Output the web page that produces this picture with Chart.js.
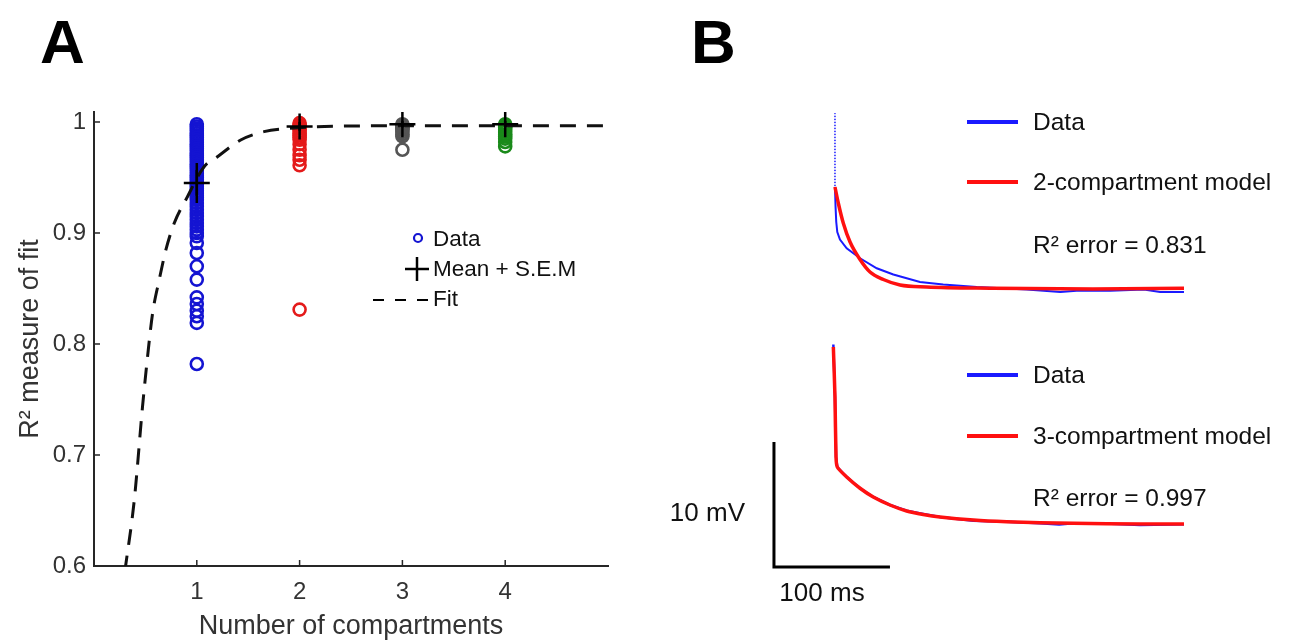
<!DOCTYPE html>
<html>
<head>
<meta charset="utf-8">
<title>Compartment model fits</title>
<script src="https://cdn.jsdelivr.net/npm/chart.js@4.4.1/dist/chart.umd.min.js"></script>
<style>
  html, body { margin: 0; padding: 0; background: #fff; }
  #wrap { position: relative; width: 1290px; height: 643px; overflow: hidden; }
  canvas { position: absolute; top: 0; }
  #fitChart { left: 0; }
  #traceChart { left: 640px; }
</style>
</head>
<body>
<div id="wrap">
  <canvas id="fitChart" width="640" height="643"></canvas>
  <canvas id="traceChart" width="650" height="643"></canvas>
</div>
<script>
"use strict";

// ---- Panel A: R² per cell, grouped by number of compartments ----
const compartments = [1, 2, 3, 4];
const r2One = [0.998, 0.996, 0.994, 0.992, 0.990, 0.988, 0.986, 0.984, 0.982, 0.980,
               0.978, 0.976, 0.974, 0.972, 0.970, 0.968, 0.966, 0.964, 0.962, 0.960,
               0.958, 0.956, 0.954, 0.952, 0.950, 0.948, 0.946, 0.944, 0.942, 0.940,
               0.938, 0.936, 0.934, 0.932, 0.930, 0.927, 0.924, 0.921, 0.918, 0.915,
               0.912, 0.909, 0.906, 0.903, 0.900, 0.897, 0.891, 0.882, 0.870, 0.858,
               0.842, 0.836, 0.830, 0.825, 0.819, 0.782];
const r2Two = [0.999, 0.997, 0.996, 0.995, 0.994, 0.992, 0.990, 0.988, 0.986, 0.984,
               0.980, 0.975, 0.970, 0.966, 0.961, 0.831];
const r2Three = [0.998, 0.997, 0.996, 0.995, 0.994, 0.993, 0.991, 0.989, 0.987, 0.975];
const r2Four = [0.998, 0.997, 0.996, 0.995, 0.993, 0.991, 0.989, 0.987, 0.985, 0.982, 0.978];
const meanR2 = [0.945, 0.996, 0.998, 0.998];
const semR2 = [0.018, 0.004, 0.003, 0.003];
const fitX = [0.30, 0.392, 0.472, 0.521, 0.570, 0.634, 0.699, 0.780, 0.909, 1.071,
              1.201, 1.427, 1.654, 1.913, 2.17, 2.6, 3.0, 4.0, 5.0];
const fitY = [0.595, 0.6595, 0.7435, 0.7886, 0.8277, 0.8577, 0.8847, 0.9087, 0.9327, 0.9597,
              0.9687, 0.9838, 0.9913, 0.9943, 0.9958, 0.9965, 0.9967, 0.9967, 0.9967];
const xTicks = [1, 2, 3, 4];
const yTicks = [0.6, 0.7, 0.8, 0.9, 1];
const groupColors = ['#1414d2', '#e41a1a', '#555555', '#1a8a1a'];

// ---- Panel B: somatic voltage traces (time in ms, voltage in mV) ----
const twoCompDataT = [1.7, 1.7, 2.2, 2.8, 3.7, 6.0, 11.8, 23.3, 37.7, 52, 75, 95, 124, 167, 196, 210, 239, 268, 282, 302.6];
const twoCompDataV = [36.3, 30.4, 28.8, 27.6, 26.8, 26.2, 25.5, 24.7, 23.9, 23.4, 22.8, 22.6, 22.4, 22.2, 22.0, 22.1, 22.1, 22.2, 22.0, 22.0];
const twoCompModelT = [1.7, 4.6, 8.9, 14.7, 23.3, 31.9, 43.4, 57.8, 80.8, 138, 224, 302.6];
const twoCompModelV = [30.4, 29.1, 27.5, 26.0, 24.6, 23.6, 23.0, 22.56, 22.4, 22.3, 22.24, 22.3];
const threeCompDataT = [0.3, 1.7, 2.6, 3.7, 11.8, 23.3, 34.7, 49.1, 63.5, 77.8, 92.2, 121, 149.7, 178.4, 195, 207.2, 240, 264.7, 302.6];
const threeCompDataV = [17.8, 13.6, 8.8, 8.0, 7.2, 6.3, 5.6, 4.96, 4.5, 4.25, 4.0, 3.7, 3.62, 3.5, 3.4, 3.5, 3.45, 3.36, 3.42];
const threeCompModelT = [0.3, 1.7, 2.6, 3.7, 11.8, 23.3, 34.7, 49.1, 63.5, 77.8, 92.2, 121, 149.7, 178.4, 207.2, 264.7, 302.6];
const threeCompModelV = [17.6, 13.6, 8.8, 8.0, 7.2, 6.3, 5.6, 4.96, 4.48, 4.2, 4.0, 3.76, 3.62, 3.54, 3.5, 3.44, 3.44];
const scaleBarT = [-50.9, -50.9, 49.1];
const scaleBarV = [10, 0, 0];
const r2Labels = ['R² error = 0.831', 'R² error = 0.997'];

const FONT = '"Liberation Sans", Arial, Helvetica, sans-serif';
const AXIS = '#262626';

const toPoints = (xs, ys) => xs.map((x, i) => ({x: x, y: ys[i]}));

function strokeLine(ctx, x1, y1, x2, y2) {
    ctx.beginPath();
    ctx.moveTo(x1, y1);
    ctx.lineTo(x2, y2);
    ctx.stroke();
}

// Inward ticks, in-axes legend and panel letter for A
const panelAExtras = {
    id: 'panelAExtras',
    afterDraw(chart) {
        const {ctx, chartArea: area, scales: {x, y}} = chart;
        ctx.save();
        ctx.strokeStyle = AXIS;
        ctx.lineWidth = 1.5;
        xTicks.forEach(function (v) {
            const px = x.getPixelForValue(v);
            strokeLine(ctx, px, area.bottom, px, area.bottom - 6);
        });
        yTicks.forEach(function (v) {
            const py = y.getPixelForValue(v);
            strokeLine(ctx, area.left, py, area.left + 6, py);
        });

        // legend
        ctx.font = '22.5px ' + FONT;
        ctx.fillStyle = '#111';
        ctx.textBaseline = 'middle';
        ctx.strokeStyle = groupColors[0];
        ctx.lineWidth = 2.2;
        ctx.beginPath();
        ctx.arc(418, 238, 4, 0, Math.PI * 2);
        ctx.stroke();
        ctx.fillText('Data', 433, 240);

        ctx.strokeStyle = '#000';
        ctx.lineWidth = 2.5;
        strokeLine(ctx, 405, 269, 429, 269);
        strokeLine(ctx, 417, 257, 417, 281);
        ctx.fillText('Mean + S.E.M', 433, 270);

        ctx.lineWidth = 2;
        ctx.setLineDash([11, 11]);
        strokeLine(ctx, 373, 300, 428, 300);
        ctx.setLineDash([]);
        ctx.fillText('Fit', 433, 300);

        ctx.font = 'bold 62px ' + FONT;
        ctx.fillStyle = '#000';
        ctx.textBaseline = 'alphabetic';
        ctx.fillText('A', 40, 63);
        ctx.restore();
    }
};

const groupSets = [r2One, r2Two, r2Three, r2Four].map(function (vals, i) {
    return {
        label: 'Data ' + compartments[i],
        data: vals.map(v => ({x: compartments[i], y: v})),
        showLine: false,
        pointStyle: 'circle',
        pointRadius: 6,
        pointBorderWidth: 2.6,
        pointBorderColor: groupColors[i],
        pointBackgroundColor: 'rgba(0,0,0,0)',
        order: 3
    };
});

// error bars as short vertical segments, separated by gaps
const errData = [];
compartments.forEach(function (c, i) {
    errData.push({x: c, y: meanR2[i] - semR2[i]});
    errData.push({x: c, y: meanR2[i] + semR2[i]});
    errData.push({x: c, y: null});
});

new Chart(document.getElementById('fitChart'), {
    type: 'scatter',
    data: {
        datasets: [
            {
                label: 'Mean + S.E.M',
                data: toPoints(compartments, meanR2),
                showLine: false,
                pointStyle: 'cross',
                pointRadius: 13,
                pointBorderWidth: 2.5,
                pointBorderColor: '#000',
                order: 0
            },
            {
                label: 'S.E.M',
                data: errData,
                showLine: true,
                spanGaps: false,
                borderColor: '#000',
                borderWidth: 2.5,
                pointRadius: 0,
                order: 1
            },
            {
                label: 'Fit',
                data: toPoints(fitX, fitY),
                showLine: true,
                borderColor: '#111',
                borderWidth: 3,
                borderDash: [16, 11],
                cubicInterpolationMode: 'monotone',
                pointRadius: 0,
                order: 2
            }
        ].concat(groupSets)
    },
    options: {
        responsive: false,
        animation: false,
        events: [],
        layout: {padding: {left: 0, right: 32, top: 112, bottom: 0}},
        plugins: {legend: {display: false}, tooltip: {enabled: false}},
        scales: {
            x: {
                type: 'linear',
                min: 0,
                max: 5,
                afterBuildTicks: s => { s.ticks = xTicks.map(v => ({value: v})); },
                afterFit: s => { s.height = 77; },
                grid: {display: false, drawTicks: false},
                border: {display: true, color: AXIS, width: 2},
                ticks: {
                    color: '#333', padding: 12, maxRotation: 0, autoSkip: false,
                    font: {size: 24, family: FONT},
                    callback: v => String(v)
                },
                title: {
                    display: true, text: 'Number of compartments', color: '#333',
                    font: {size: 27, family: FONT}, padding: {top: 0, bottom: 0}
                }
            },
            y: {
                type: 'linear',
                min: 0.6,
                max: 1.009,
                afterBuildTicks: s => { s.ticks = yTicks.map(v => ({value: v})); },
                afterFit: s => { s.width = 94; },
                grid: {display: false, drawTicks: false},
                border: {display: true, color: AXIS, width: 2},
                ticks: {
                    color: '#333', padding: 8, autoSkip: false,
                    font: {size: 24, family: FONT},
                    callback: v => String(v)
                },
                title: {
                    display: true, text: 'R² measure of fit', color: '#333',
                    font: {size: 27, family: FONT}, padding: {top: 14, bottom: 0}
                }
            }
        }
    },
    plugins: [panelAExtras]
});

// Legends, scale-bar labels and panel letter for B
const panelBExtras = {
    id: 'panelBExtras',
    afterDraw(chart) {
        const ctx = chart.ctx;
        const off = 640; // canvas sits at x = 640 on the page
        ctx.save();
        ctx.lineWidth = 4;
        ctx.font = '24.5px ' + FONT;
        ctx.fillStyle = '#111';
        ctx.textBaseline = 'middle';
        const rows = [
            {y: 122, color: '#1a1aff', text: 'Data'},
            {y: 182, color: '#ff1010', text: '2-compartment model'},
            {y: 245, color: null, text: r2Labels[0]},
            {y: 375, color: '#1a1aff', text: 'Data'},
            {y: 436, color: '#ff1010', text: '3-compartment model'},
            {y: 498, color: null, text: r2Labels[1]}
        ];
        rows.forEach(function (r) {
            if (r.color) {
                ctx.strokeStyle = r.color;
                strokeLine(ctx, 967 - off, r.y, 1018 - off, r.y);
            }
            ctx.fillText(r.text, 1033 - off, r.y + 1);
        });

        ctx.font = '26px ' + FONT;
        ctx.textAlign = 'right';
        ctx.fillText('10 mV', 745 - off, 514);
        ctx.textAlign = 'center';
        ctx.fillText('100 ms', 822 - off, 594);

        ctx.font = 'bold 62px ' + FONT;
        ctx.fillStyle = '#000';
        ctx.textAlign = 'left';
        ctx.textBaseline = 'alphabetic';
        ctx.fillText('B', 691 - off, 63);
        ctx.restore();
    }
};

new Chart(document.getElementById('traceChart'), {
    type: 'line',
    data: {
        datasets: [
            {
                label: '2-compartment model',
                data: toPoints(twoCompModelT, twoCompModelV),
                borderColor: '#ff1010',
                borderWidth: 3.5,
                cubicInterpolationMode: 'monotone',
                pointRadius: 0,
                order: 0
            },
            {
                label: 'Data (2-compartment)',
                data: toPoints(twoCompDataT, twoCompDataV),
                borderColor: '#1a1aff',
                borderWidth: 2,
                tension: 0,
                pointRadius: 0,
                segment: {
                    borderWidth: c => (c.p0DataIndex === 0 ? 1 : 2),
                    borderDash: c => (c.p0DataIndex === 0 ? [1, 2] : undefined)
                },
                order: 1
            },
            {
                label: '3-compartment model',
                data: toPoints(threeCompModelT, threeCompModelV),
                borderColor: '#ff1010',
                borderWidth: 3.5,
                tension: 0.2,
                pointRadius: 0,
                order: 0
            },
            {
                label: 'Data (3-compartment)',
                data: toPoints(threeCompDataT, threeCompDataV),
                borderColor: '#1a1aff',
                borderWidth: 2.5,
                tension: 0,
                pointRadius: 0,
                order: 1
            },
            {
                label: 'Scale bar',
                data: toPoints(scaleBarT, scaleBarV),
                borderColor: '#000',
                borderWidth: 3,
                borderCapStyle: 'butt',
                borderJoinStyle: 'miter',
                tension: 0,
                pointRadius: 0,
                order: 2
            }
        ]
    },
    options: {
        responsive: false,
        animation: false,
        events: [],
        layout: {padding: 0},
        plugins: {legend: {display: false}, tooltip: {enabled: false}},
        scales: {
            x: {type: 'linear', display: false, min: -166.4, max: 394.0},
            y: {type: 'linear', display: false, min: -6.08, max: 45.36}
        }
    },
    plugins: [panelBExtras]
});
</script>
</body>
</html>
